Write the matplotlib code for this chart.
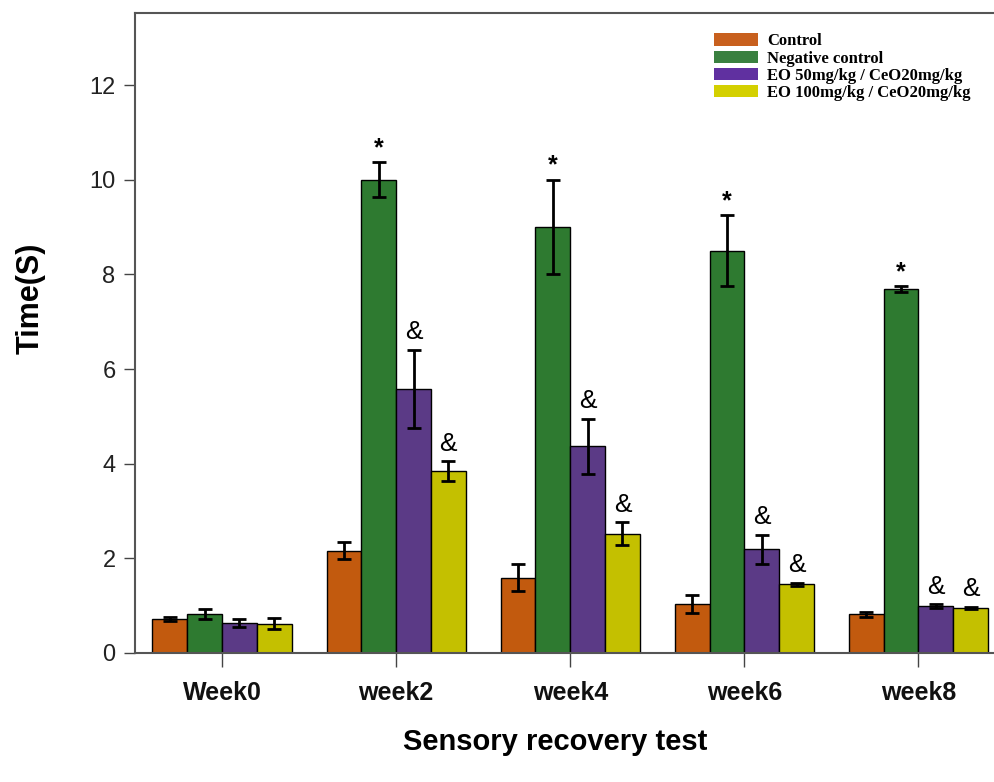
import matplotlib
matplotlib.use("Agg")
import matplotlib.pyplot as plt
import numpy as np
from matplotlib.patches import Patch

weeks = ["Week0", "week2", "week4", "week6", "week8"]
groups = ["Control", "Negative control", "EO 50mg/kg / CeO20mg/kg", "EO 100mg/kg / CeO20mg/kg"]

control = [0.72, 2.16, 1.59, 1.03, 0.82]
control_err = [0.05, 0.18, 0.28, 0.19, 0.05]
negative = [0.82, 10.0, 9.0, 8.5, 7.69]
negative_err = [0.10, 0.37, 1.0, 0.75, 0.06]
eo50 = [0.63, 5.58, 4.37, 2.19, 0.99]
eo50_err = [0.08, 0.82, 0.58, 0.30, 0.04]
eo100 = [0.62, 3.84, 2.52, 1.45, 0.95]
eo100_err = [0.12, 0.21, 0.24, 0.03, 0.02]

# significance marks per group
neg_marks = ["", "*", "*", "*", "*"]
eo50_marks = ["", "&", "&", "&", "&"]
eo100_marks = ["", "&", "&", "&", "&"]

bar_colors = ["#C25A0E", "#2E7A30", "#5B3A86", "#C4C000"]
legend_colors = ["#C8601E", "#3A8040", "#6030A0", "#D4D000"]

plt.rcParams["font.family"] = ["Liberation Sans", "DejaVu Sans"]

fig = plt.figure(figsize=(9.95, 7.82), dpi=100)
ax = fig.add_axes([0.1357, 0.165, 0.8643, 0.818])

x = np.arange(len(weeks))
width = 0.2
offsets = [-0.3, -0.1, 0.1, 0.3]
series = [(control, control_err), (negative, negative_err), (eo50, eo50_err), (eo100, eo100_err)]

for (vals, errs), off, col in zip(series, offsets, bar_colors):
    ax.bar(x + off, vals, width, color=col, edgecolor="black", linewidth=1.0, zorder=2)
    ax.errorbar(x + off, vals, yerr=errs, fmt="none", ecolor="black",
                elinewidth=2.0, capsize=5, capthick=2.0, zorder=3)

def annotate(vals, errs, marks, off, size, dy, weight="normal"):
    for xi, v, e, m in zip(x, vals, errs, marks):
        if m:
            ax.text(xi + off, v + e + dy, m, ha="center", va="bottom",
                    fontsize=size, color="black", fontweight=weight)

annotate(negative, negative_err, neg_marks, offsets[1], 18, 0.05, "bold")
annotate(eo50, eo50_err, eo50_marks, offsets[2], 19, 0.12)
annotate(eo100, eo100_err, eo100_marks, offsets[3], 19, 0.12)

ax.set_xlim(-0.5, 4.44)
ax.set_ylim(0, 13.52)
ax.set_yticks([0, 2, 4, 6, 8, 10, 12])
ax.set_yticklabels(["0", "2", "4", "6", "8", "10", "12"], fontsize=17, color="#222222")
ax.set_xticks(x)
ax.set_xticklabels(weeks, fontsize=18, fontweight="bold", color="#111111")
ax.tick_params(axis="y", direction="out", length=8, width=1.0, color="#444444", pad=6)
ax.tick_params(axis="x", direction="out", length=10, width=1.0, color="#444444", pad=10)

for side in ["left", "top", "bottom"]:
    ax.spines[side].set_color("#555555")
    ax.spines[side].set_linewidth(1.5)
ax.spines["right"].set_visible(False)

ax.set_ylabel("Time(S)", fontsize=22, fontweight="bold")
ax.yaxis.set_label_coords(-0.104, 0.555)
ax.set_xlabel("Sensory recovery test", fontsize=21, fontweight="bold", va="top")
ax.xaxis.set_label_coords(0.488, -0.117)

handles = [Patch(facecolor=c, edgecolor="none") for c in legend_colors]
leg = ax.legend(handles, groups, loc="upper left", bbox_to_anchor=(0.666, 0.979),
                frameon=False, handlelength=2.6, handleheight=0.75, handletextpad=0.55,
                labelspacing=0.07, borderaxespad=0.0,
                prop={"family": "Liberation Serif", "weight": "bold", "size": 12})

fig.savefig("out.png", dpi=100)
